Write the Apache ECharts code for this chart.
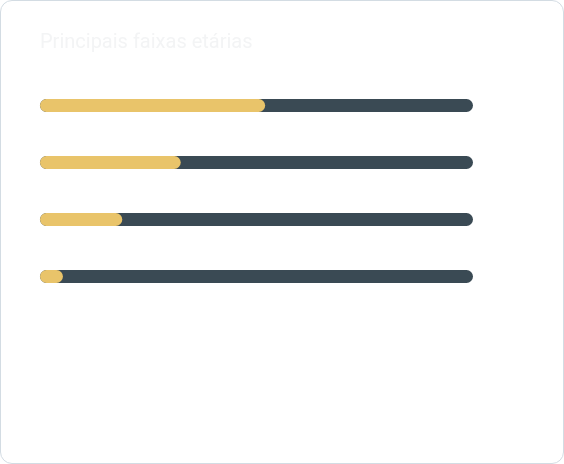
<!DOCTYPE html>
<html>
<head>
<meta charset="utf-8">
<script src="https://cdn.jsdelivr.net/npm/echarts@6/dist/echarts.min.js"></script>
<style>
  html, body { margin: 0; padding: 0; background: #fff; }
  .card {
    width: 564px;
    height: 464px;
    box-sizing: border-box;
    border: 1px solid #d3dce3;
    border-radius: 12px;
    overflow: hidden;
    background: #fff;
  }
  #chart { width: 100%; height: 100%; }
</style>
</head>
<body>
<div class="card"><div id="chart"></div></div>
<script>
const titleText = 'Principais faixas etárias'
const categories = ['Faixa 1', 'Faixa 2', 'Faixa 3', 'Faixa 4']
const shareValues = [52, 32.5, 19, 5.3]
const trackValues = [100, 100, 100, 100]

const chart = echarts.init(document.getElementById('chart'))

chart.setOption({
  animation: false,
  title: {
    text: titleText,
    left: 39,
    top: 32,
    padding: 0,
    textStyle: { color: '#f3f4f5', fontSize: 20, fontWeight: 'normal', fontFamily: 'Roboto' },
  },
  // 4 bands of 57px so the 13px bars sit on whole pixels
  grid: {
    left: 39,
    right: 90,
    top: 76,
    bottom: 158,
  },
  xAxis: {
    type: 'value',
    min: 0,
    max: 100,
    show: false,
  },
  yAxis: {
    type: 'category',
    data: categories,
    inverse: true,
    show: false,
  },
  series: [
    {
      type: 'bar',
      data: trackValues,
      barWidth: 13,
      barGap: '-100%',
      silent: true,
      itemStyle: { color: '#3a4a54', borderRadius: 7 },
      z: 1,
    },
    {
      type: 'bar',
      data: shareValues,
      barWidth: 13,
      itemStyle: { color: '#e9c46a', borderRadius: 7 },
      z: 2,
    },
  ],
})
</script>
</body>
</html>
